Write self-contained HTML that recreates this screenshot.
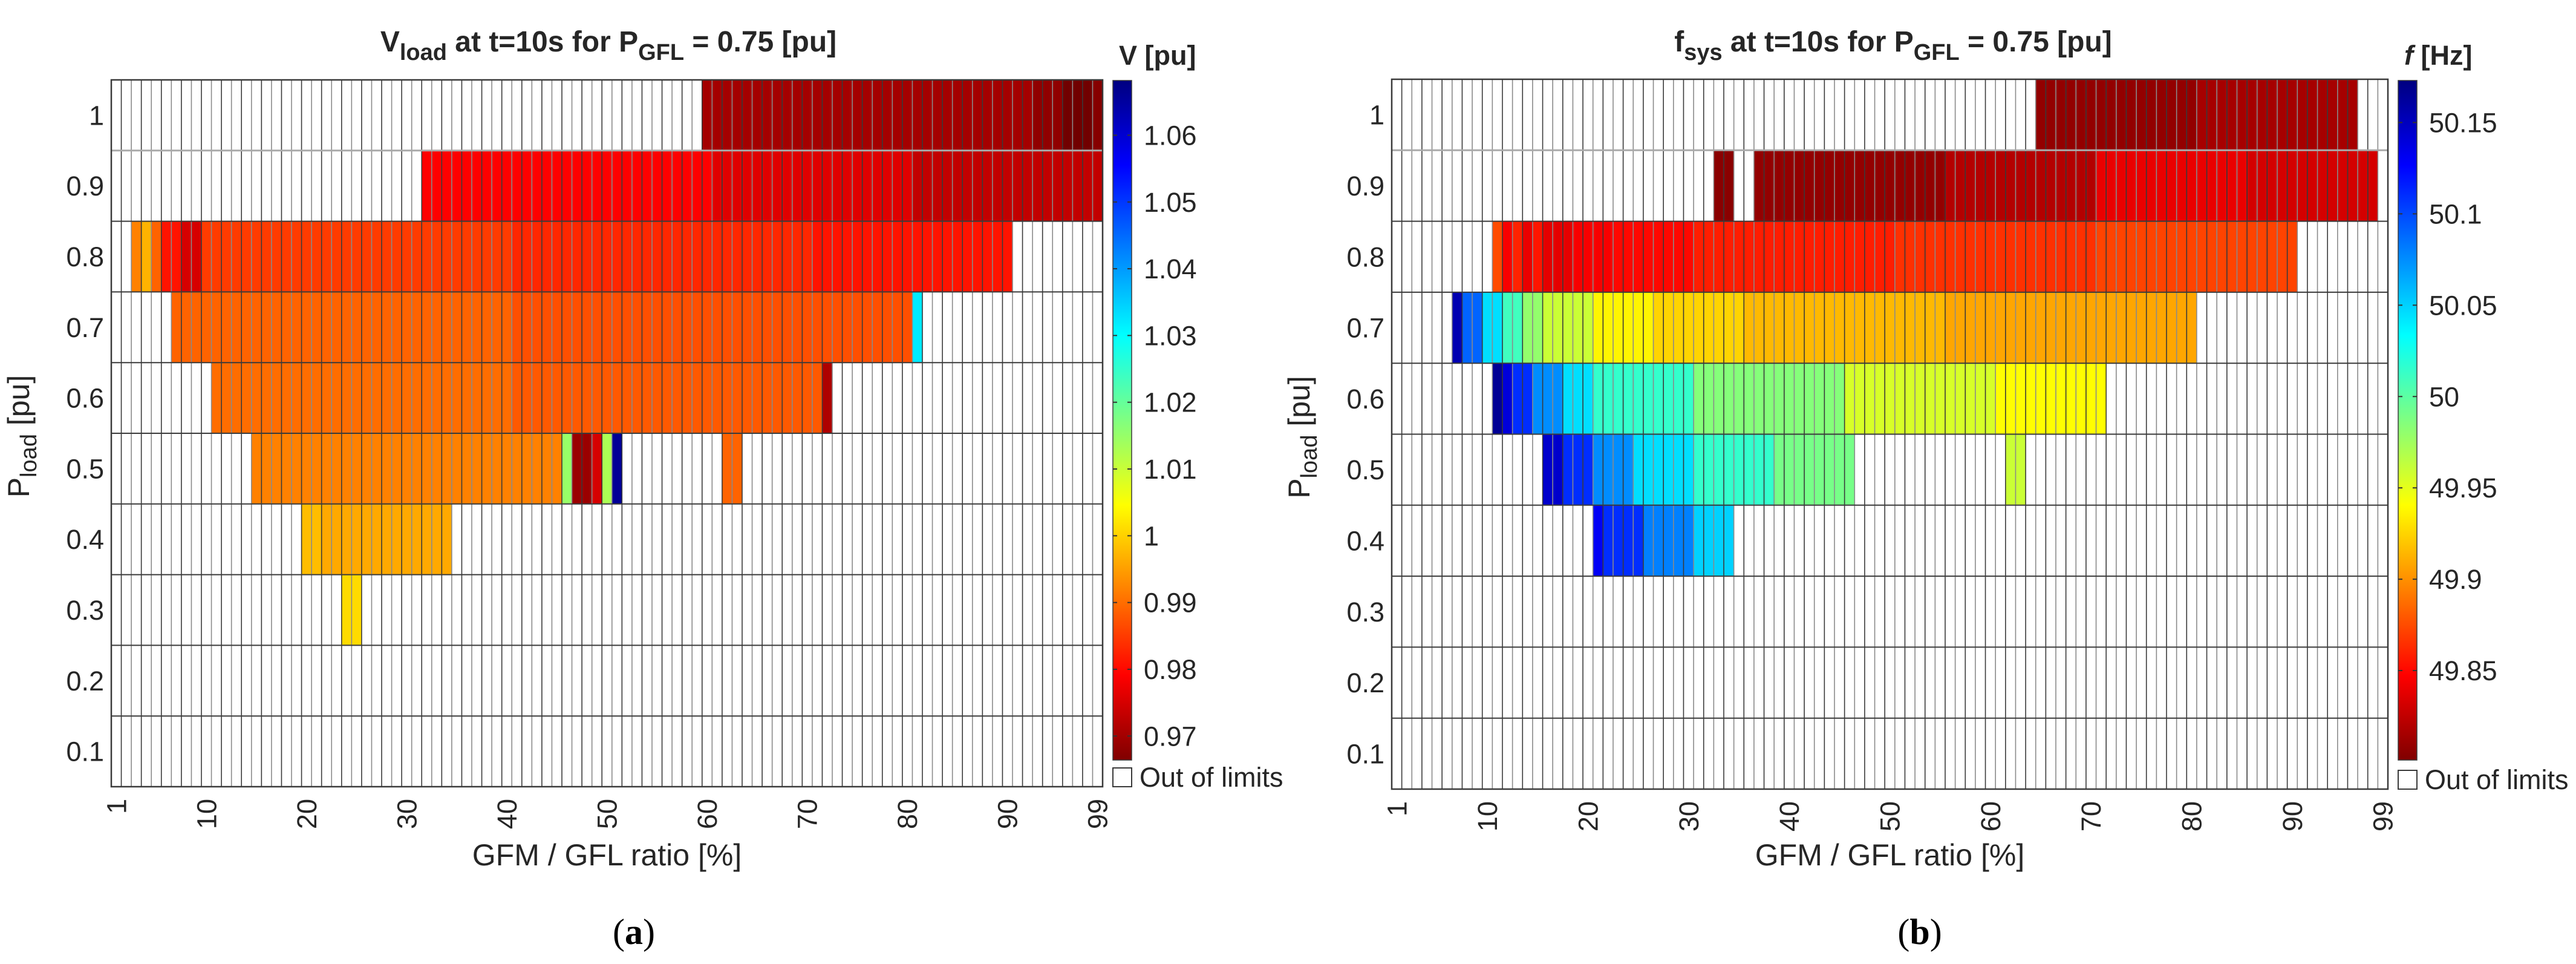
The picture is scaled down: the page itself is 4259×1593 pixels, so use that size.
<!DOCTYPE html>
<html><head><meta charset="utf-8">
<style>
html,body{margin:0;padding:0;background:#fff;}
svg{display:block;}
text{font-family:"Liberation Sans",Arial,sans-serif;fill:#262626;}
</style></head>
<body>
<svg id="fig" width="4259" height="1593" viewBox="0 0 4259 1593" xmlns="http://www.w3.org/2000/svg">
  <rect width="4259" height="1593" fill="#fff"/>
  <g id="chartA"></g>
  <g id="chartB"></g>
  <text x="1048" y="1560" text-anchor="middle" style="font-family:'Liberation Serif',serif;font-size:60px;fill:#000">(<tspan font-weight="bold">a</tspan>)</text>
  <text x="3174" y="1560" text-anchor="middle" style="font-family:'Liberation Serif',serif;font-size:60px;fill:#000">(<tspan font-weight="bold">b</tspan>)</text>
</svg>
<script>
// ---- data: rows of P_load, each with run segments [startCol, endCol, value]
const rowLabels = [1, 0.9, 0.8, 0.7, 0.6, 0.5, 0.4, 0.3, 0.2, 0.1];
const xTickLabels = [1, 10, 20, 30, 40, 50, 60, 70, 80, 90, 99];
const vTicks = [0.97, 0.98, 0.99, 1, 1.01, 1.02, 1.03, 1.04, 1.05, 1.06];
const fTicks = [49.85, 49.9, 49.95, 50, 50.05, 50.1, 50.15];
const vRange = [0.9664, 1.0682];
const fRange = [49.801, 50.173];

const vRow10 = [[60,92,0.970],[93,95,0.968],[96,98,0.965],[99,99,0.967]];
const vRow09 = [[32,60,0.979],[61,80,0.976],[81,99,0.973]];
const vRow08 = [[3,3,0.992],[4,4,0.997],[5,5,0.989],[6,7,0.981],[8,9,0.975],[10,40,0.985],[41,70,0.983],[71,90,0.981]];
const vRow07 = [[7,40,0.989],[41,80,0.987],[81,81,1.032]];
const vRow06 = [[11,40,0.990],[41,71,0.988],[72,72,0.971]];
const vRow05 = [[15,45,0.992],[46,46,1.015],[47,48,0.969],[49,49,0.975],[50,50,1.013],[51,51,1.066],[62,63,0.989]];
const vRow04 = [[20,21,0.998],[22,34,0.996]];
const vRow03 = [[24,25,1.001]];
const vRow02 = [];
const vRow01 = [];

const fRow10 = [[65,80,49.808],[81,96,49.815]];
const fRow09 = [[33,34,49.805],[37,55,49.808],[56,70,49.820],[71,85,49.840],[86,98,49.832]];
const fRow08 = [[11,11,49.875],[12,12,49.845],[13,13,49.860],[14,14,49.840],[15,15,49.855],[16,18,49.838],[19,22,49.845],[23,30,49.850],[31,50,49.858],[51,70,49.865],[71,90,49.872]];
const fRow07 = [[7,7,50.155],[8,9,50.090],[10,11,50.045],[12,13,50.010],[14,15,49.980],[16,20,49.960],[21,26,49.937],[27,35,49.925],[36,55,49.915],[56,80,49.908]];
const fRow06 = [[11,11,50.165],[12,12,50.140],[13,14,50.110],[15,17,50.075],[18,20,50.045],[21,30,50.015],[31,45,49.985],[46,60,49.955],[61,71,49.940]];
const fRow05 = [[16,17,50.145],[18,20,50.110],[21,24,50.075],[25,30,50.045],[31,38,50.015],[39,46,49.990],[62,63,49.960]];
const fRow04 = [[21,21,50.130],[22,25,50.110],[26,30,50.080],[31,34,50.050]];
const fRow03 = [];
const fRow02 = [];
const fRow01 = [];

const vRows = [vRow10,vRow09,vRow08,vRow07,vRow06,vRow05,vRow04,vRow03,vRow02,vRow01];
const fRows = [fRow10,fRow09,fRow08,fRow07,fRow06,fRow05,fRow04,fRow03,fRow02,fRow01];

const NS = "http://www.w3.org/2000/svg";
function mk(tag, attrs, parent){
  const e = document.createElementNS(NS, tag);
  for (const k in attrs) e.setAttribute(k, attrs[k]);
  parent.appendChild(e); return e;
}
function jet(t){
  const c = x => Math.max(0, Math.min(1, x));
  const r = c(1.5 - Math.abs(4*t - 3)), g = c(1.5 - Math.abs(4*t - 2)), b = c(1.5 - Math.abs(4*t - 1));
  return `rgb(${Math.round(r*255)},${Math.round(g*255)},${Math.round(b*255)})`;
}
function colorOf(v, range){ return jet(1 - (v - range[0]) / (range[1] - range[0])); }

function drawChart(g, cfg){
  const L = cfg.left, R = cfg.right, T = cfg.top, B = cfg.bottom;
  const ncol = 99, nrow = rowLabels.length;
  const cw = (R - L) / ncol, rh = (B - T) / nrow;
  const xOf = col => L + (col - 1) * cw;
  const yOf = ri => T + ri * rh;
  cfg.rows.forEach((segs, ri) => {
    segs.forEach(seg => {
      for (let c = seg[0]; c <= seg[1]; c++) {
        const r = mk('rect', {x: xOf(c), y: yOf(ri), width: cw + 0.6, height: rh, fill: colorOf(seg[2], cfg.range)}, g);
        
        
      }
    });
  });
  const grid = mk('g', {}, g);
  
  
  for (let c = 1; c < ncol; c++) {
    mk('line', {x1: xOf(c+1), x2: xOf(c+1), y1: T, y2: B, stroke: (c % 2 ? '#3a3a3a' : '#8a8a8a'), 'stroke-width': 1.6}, grid);
  }
  for (let r = 1; r < nrow; r++) {
    mk('line', {x1: L, x2: R, y1: yOf(r), y2: yOf(r), stroke: r === 1 ? '#aaaaaa' : '#3a3a3a', 'stroke-width': r === 1 ? 3 : 2}, grid);
  }
  const frame = mk('rect', {x: L, y: T, width: R - L, height: B - T, fill: 'none', stroke: '#3a3a3a', 'stroke-width': 2.5}, g);
  
  
  rowLabels.forEach((lab, ri) => {
    const t = mk('text', {x: L - 12, y: yOf(ri) + rh/2 + 16, 'text-anchor': 'end', 'font-size': 45}, g);
    t.textContent = lab;
    
    
  });
  xTickLabels.forEach(lab => {
    const cx = xOf(lab) + cw/2 + 16;
    const t = mk('text', {x: cx, y: B + 20, 'text-anchor': 'end', 'font-size': 45, transform: `rotate(-90 ${cx} ${B + 20})`}, g);
    t.textContent = lab;
    
    
  });
  const xl = mk('text', {x: (L + R)/2, y: 1430, 'text-anchor': 'middle', 'font-size': 50}, g);
  xl.textContent = 'GFM / GFL ratio [%]';
  
  
  const yx = L - 136, yy = (T + B)/2 + 5;
  const yl = mk('text', {x: yx, y: yy, 'text-anchor': 'middle', 'font-size': 50, transform: `rotate(-90 ${yx} ${yy})`}, g);
  yl.innerHTML = 'P<tspan font-size="38" dy="12">load</tspan><tspan dy="-12"> [pu]</tspan>';
  
  
  const ti = mk('text', {x: cfg.titleX, y: 85, 'text-anchor': 'middle', 'font-size': 48, 'font-weight': 'bold'}, g);
  ti.innerHTML = cfg.title;
  
  
  const cbL = cfg.cbLeft, cbW = 31, cbT = 133, cbB = 1256;
  const defs = mk('defs', {}, g);
  const grad = mk('linearGradient', {id: cfg.id + 'grad', x1: 0, y1: 1, x2: 0, y2: 0}, defs);
  for (let i = 0; i <= 32; i++) {
    const t = i / 32;
    mk('stop', {offset: t, 'stop-color': jet(1 - t)}, grad);
  }
  const cb = mk('rect', {x: cbL, y: cbT, width: cbW, height: cbB - cbT, fill: `url(#${cfg.id}grad)`, stroke: '#3a3a3a', 'stroke-width': 1.5}, g);
  
  
  const cbY = v => cbB - (v - cfg.range[0]) / (cfg.range[1] - cfg.range[0]) * (cbB - cbT);
  cfg.ticks.forEach(v => {
    const y = cbY(v);
    mk('line', {x1: cbL, x2: cbL + 7, y1: y, y2: y, stroke: '#333', 'stroke-width': 2}, g);
    mk('line', {x1: cbL + cbW - 7, x2: cbL + cbW, y1: y, y2: y, stroke: '#333', 'stroke-width': 2}, g);
    const t = mk('text', {x: cbL + cbW + 20, y: y + 16, 'font-size': 45}, g);
    t.textContent = v;
    
    
  });
  const ct = mk('text', {x: cbL + 10, y: 107, 'font-size': 45, 'font-weight': 'bold'}, g);
  ct.innerHTML = cfg.cbTitle;
  
  
  const ob = mk('rect', {x: cbL, y: B - 31, width: cbW, height: 31, fill: '#fff', stroke: '#3a3a3a', 'stroke-width': 2}, g);
  
  
  const ot = mk('text', {x: cbL + cbW + 13, y: B, 'font-size': 45}, g);
  ot.textContent = 'Out of limits';
  
  
}

drawChart(document.getElementById('chartA'), {
  id: 'a', left: 184, right: 1823, top: 132, bottom: 1300,
  rows: vRows, range: vRange, ticks: vTicks, cbLeft: 1840, titleX: 1006,
  title: 'V<tspan font-size="38" dy="14">load</tspan><tspan dy="-14"> at t=10s for P</tspan><tspan font-size="38" dy="14">GFL</tspan><tspan dy="-14"> = 0.75 [pu]</tspan>',
  cbTitle: 'V [pu]'
});
drawChart(document.getElementById('chartB'), {
  id: 'b', left: 2301, right: 3948, top: 131, bottom: 1304,
  rows: fRows, range: fRange, ticks: fTicks, cbLeft: 3965, titleX: 3130,
  title: 'f<tspan font-size="38" dy="14">sys</tspan><tspan dy="-14"> at t=10s for P</tspan><tspan font-size="38" dy="14">GFL</tspan><tspan dy="-14"> = 0.75 [pu]</tspan>',
  cbTitle: '<tspan font-style="italic">f</tspan> [Hz]'
});
</script>
</body></html>
